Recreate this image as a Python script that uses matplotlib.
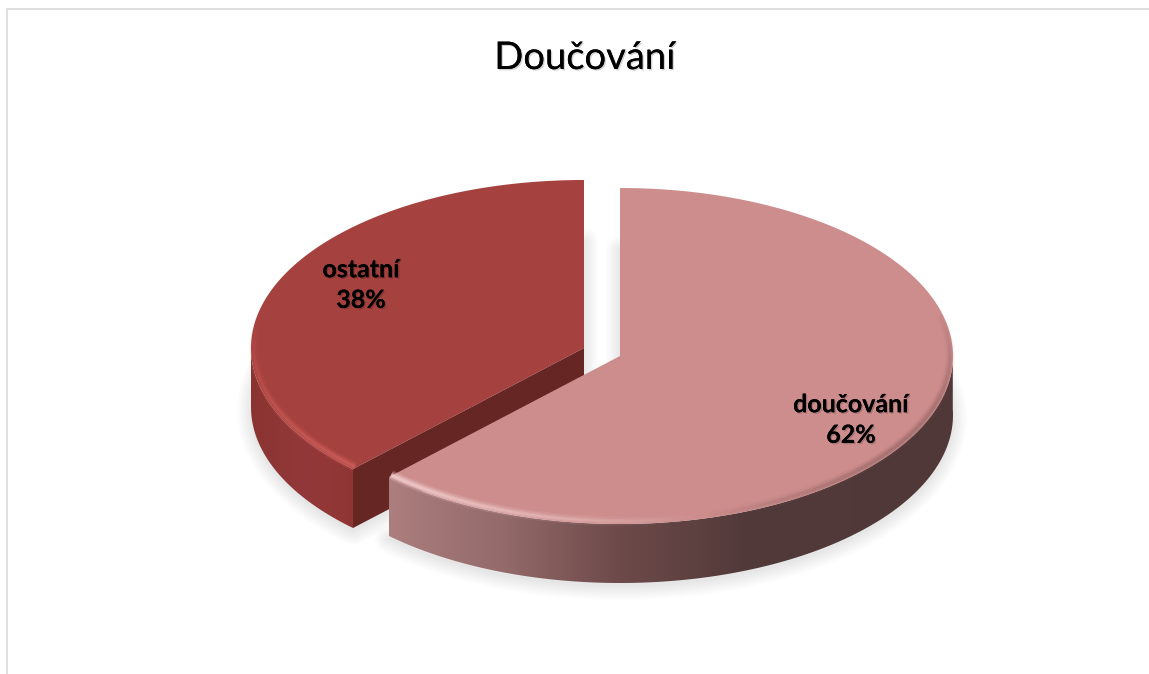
import numpy as np
import matplotlib
matplotlib.use("Agg")
import matplotlib.pyplot as plt
import matplotlib.patheffects as pe
from matplotlib.patches import Polygon
from matplotlib.collections import LineCollection
from matplotlib.colors import LinearSegmentedColormap

title = "Doučování"
labels = ["doučování", "ostatní"]
values = [62.2, 37.8]

plt.rcParams['font.family'] = ['Lato', 'DejaVu Sans']

WIDTH, HEIGHT = 1149, 674
RX, RY = 333, 168
DEPTH = 59

fig = plt.figure(figsize=(WIDTH / 100, HEIGHT / 100), dpi=100)
ax = fig.add_axes([0, 0, 1, 1])
ax.set_xlim(0, WIDTH)
ax.set_ylim(HEIGHT, 0)
ax.axis('off')

# slice angles, clockwise from 12 o'clock
ends = np.cumsum(values) / np.sum(values) * 360
starts = np.r_[0, ends[:-1]]
cut = ends[0]


def arc(cx, cy, a0, a1, rx=RX, ry=RY, n=200):
    t = np.radians(np.linspace(a0, a1, n))
    return np.c_[cx + rx * np.sin(t), cy - ry * np.cos(t)]


def wedge(cx, cy, a0, a1):
    return np.vstack([[cx, cy], arc(cx, cy, a0, a1)])


def side(cx, cy, a0, a1):
    top = arc(cx, cy, a0, a1)
    return np.vstack([top, top[::-1] + [0, DEPTH]])


def rim(cx, cy, a0, a1, peak, color, strength=1.0):
    # bevel along the top edge, fades along the arc
    pts = arc(cx, cy, a0, a1, RX - 3, RY - 3)
    segs = np.stack([pts[:-1], pts[1:]], axis=1)
    u = np.linspace(0, 1, len(segs))
    fade = {'start': 1 - u, 'end': u, 'mid': np.sin(np.pi * u)}[peak]
    for lw, alpha in [(7, 0.14), (5, 0.2), (3, 0.3), (1.5, 0.3)]:
        rgba = np.tile(matplotlib.colors.to_rgba(color), (len(segs), 1))
        rgba[:, 3] = fade * alpha * strength
        ax.add_collection(LineCollection(segs, colors=rgba, linewidths=lw, zorder=8, capstyle='butt'))


# panel border
ax.plot([7, 7, WIDTH], [HEIGHT, 9, 9], color='#d9d9d9', lw=1.2, zorder=1)

pink_c = (620, 356)
red_c = (584, 348)

# soft shadow under both slices
for c, a0, a1 in [(pink_c, starts[0], ends[0]), (red_c, starts[1], ends[1])]:
    shape = wedge(c[0], c[1] + DEPTH + 3, a0, a1)
    for lw in np.linspace(20, 1, 12):
        ax.add_patch(Polygon(shape, closed=True, fc='none', ec='#9a9a9a', lw=lw, alpha=0.018,
                             joinstyle='round', zorder=2))
    ax.add_patch(Polygon(shape, closed=True, fc='#e6e6e6', ec='none', zorder=2))

# red slice
red_side = Polygon(side(*red_c, cut, 270), closed=True, fc='none', ec='none', zorder=3)
ax.add_patch(red_side)
cmap_red = LinearSegmentedColormap.from_list('r', ['#8a3431', '#93383a', '#8f3633'])
im = ax.imshow(np.linspace(0, 1, 256)[None, :], cmap=cmap_red, extent=[250, 360, 600, 340],
               aspect='auto', zorder=3)
im.set_clip_path(red_side)
end_pt = arc(*red_c, cut, cut, n=1)[0]
ax.add_patch(Polygon([red_c, end_pt, end_pt + [0, DEPTH], np.array(red_c) + [0, DEPTH]], closed=True,
                     fc='#662624', ec='none', zorder=4))
ax.add_patch(Polygon(wedge(*red_c, starts[1], ends[1]), closed=True, fc='#a5413e', ec='none', zorder=5))
rim(*red_c, cut, 285, 'start', '#d4635f', 1.3)

# pink slice
pink_side = Polygon(side(*pink_c, 88, cut), closed=True, fc='none', ec='none', zorder=6)
ax.add_patch(pink_side)
cmap_pink = LinearSegmentedColormap.from_list(
    'p', [(0, '#ac7e7e'), (0.2, '#946a6a'), (0.4, '#6e4a4a'), (0.62, '#533a3a'), (1, '#513838')])
im = ax.imshow(np.linspace(0, 1, 256)[None, :], cmap=cmap_pink, extent=[388, 960, 600, 340],
               aspect='auto', zorder=6)
im.set_clip_path(pink_side)
ax.add_patch(Polygon(wedge(*pink_c, starts[0], ends[0]), closed=True, fc='#cd8d8d', ec='none', zorder=7))
rim(*pink_c, 165, cut, 'end', '#f8d6d6', 1.4)
rim(*pink_c, 75, 165, 'mid', '#8a5c5c', 0.7)

ax.set_xlim(0, WIDTH)
ax.set_ylim(HEIGHT, 0)

# text
shadow = [pe.withSimplePatchShadow(offset=(1, -1), alpha=0.18, shadow_rgbFace='k'), pe.Normal()]
ax.text(585, 58, title, fontsize=27.5, ha='center', va='center', color='black', zorder=9, path_effects=shadow)
ax.text(851, 420, f"{labels[0]}\n{values[0]:.0f}%", fontsize=18, fontweight='bold', ha='center', va='center',
        linespacing=1.4, color='black', zorder=9, path_effects=shadow)
ax.text(361, 285, f"{labels[1]}\n{values[1]:.0f}%", fontsize=18, fontweight='bold', ha='center', va='center',
        linespacing=1.4, color='black', zorder=9, path_effects=shadow)

fig.savefig('out.png', dpi=100)
